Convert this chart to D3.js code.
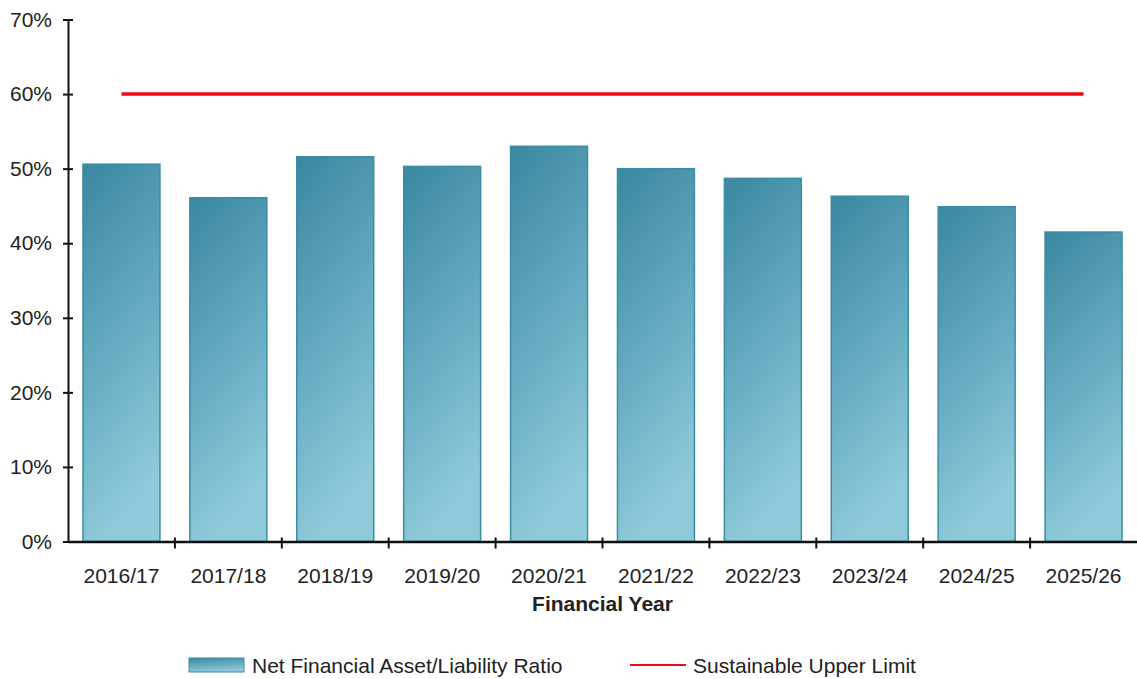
<!DOCTYPE html>
<html>
<head>
<meta charset="utf-8">
<script src="https://cdn.jsdelivr.net/npm/d3@7"></script>
<style>
  body { margin: 0; background: #fff; }
  text { font-family: "Liberation Sans", Arial, sans-serif; fill: #222; }
</style>
</head>
<body>
<div id="chart"></div>
<script>
// data
const years = ["2016/17", "2017/18", "2018/19", "2019/20", "2020/21",
               "2021/22", "2022/23", "2023/24", "2024/25", "2025/26"];
const ratio = [50.6, 46.1, 51.6, 50.3, 53.0, 50.0, 48.7, 46.3, 44.9, 41.5];
const upperLimit = 60;
const yTicks = [0, 10, 20, 30, 40, 50, 60, 70];

const W = 1137, H = 679;
const plotLeft = 68, plotRight = 1137, plotTop = 19.5, plotBottom = 541.5;

const svg = d3.select("#chart")
  .append("svg")
    .attr("width", W)
    .attr("height", H);

const defs = svg.append("defs");
const grad = defs.append("linearGradient")
  .attr("id", "barGrad")
  .attr("x1", "0%").attr("y1", "0%")
  .attr("x2", "25%").attr("y2", "100%");
grad.append("stop").attr("offset", "0%").attr("stop-color", "#3a87a0");
grad.append("stop").attr("offset", "55%").attr("stop-color", "#66abc2");
grad.append("stop").attr("offset", "100%").attr("stop-color", "#8ecad9");

const x = d3.scaleBand()
  .domain(years)
  .range([plotLeft, plotRight])
  .paddingInner(0.28)
  .paddingOuter(0.14);

const y = d3.scaleLinear()
  .domain([0, 70])
  .range([plotBottom, plotTop]);

// bars
svg.selectAll(".bar")
  .data(years.map((yr, i) => ({ yr, v: ratio[i] })))
  .enter()
  .append("rect")
    .attr("class", "bar")
    .attr("x", d => x(d.yr))
    .attr("y", d => y(d.v))
    .attr("width", x.bandwidth())
    .attr("height", d => y(0) - y(d.v))
    .attr("fill", "url(#barGrad)")
    .attr("stroke", "#3b8ea3")
    .attr("stroke-width", 1.5);

// upper limit line
svg.append("line")
  .attr("x1", x(years[0]) + x.bandwidth() / 2)
  .attr("x2", x(years[years.length - 1]) + x.bandwidth() / 2)
  .attr("y1", y(upperLimit))
  .attr("y2", y(upperLimit))
  .attr("stroke", "#f00a14")
  .attr("stroke-width", 3.5);

// y axis
const yAxis = svg.append("g")
  .attr("transform", `translate(${plotLeft},0)`)
  .call(d3.axisLeft(y).tickValues(yTicks).tickFormat(d => d + "%").tickSize(0).tickPadding(16));
yAxis.select(".domain").attr("stroke", "#111").attr("stroke-width", 2);
yAxis.selectAll(".tick line").remove();
yAxis.selectAll(".tick").append("line")
  .attr("x1", -5).attr("x2", 5)
  .attr("stroke", "#111").attr("stroke-width", 2);
yAxis.selectAll("text")
  .style("font-size", "21px")
  .attr("fill", "#222");

// x axis
const xAxis = svg.append("g")
  .attr("transform", `translate(0,${plotBottom})`)
  .call(d3.axisBottom(x).tickSize(0).tickPadding(27));
xAxis.select(".domain").attr("stroke", "#111").attr("stroke-width", 2.5);
xAxis.selectAll("text")
  .style("font-size", "21px")
  .attr("fill", "#222");

// category separators
svg.append("g")
  .selectAll("line")
  .data(years.slice(1))
  .enter()
  .append("line")
    .attr("x1", d => x(d) - x.step() * x.paddingInner() / 2)
    .attr("x2", d => x(d) - x.step() * x.paddingInner() / 2)
    .attr("y1", plotBottom - 4)
    .attr("y2", plotBottom + 7)
    .attr("stroke", "#111")
    .attr("stroke-width", 2);

// x title
svg.append("text")
  .attr("x", (plotLeft + plotRight) / 2)
  .attr("y", 611)
  .attr("text-anchor", "middle")
  .style("font-size", "21px")
  .style("font-weight", "bold")
  .text("Financial Year");

// legend
const lg = svg.append("g");
lg.append("rect")
  .attr("x", 189).attr("y", 658)
  .attr("width", 55).attr("height", 14)
  .attr("fill", "url(#barGrad)")
  .attr("stroke", "#3b8ea3");
lg.append("text")
  .attr("x", 252).attr("y", 673)
  .style("font-size", "21px")
  .text("Net Financial Asset/Liability Ratio");
lg.append("line")
  .attr("x1", 630).attr("x2", 686)
  .attr("y1", 665).attr("y2", 665)
  .attr("stroke", "#f00a14")
  .attr("stroke-width", 2);
lg.append("text")
  .attr("x", 693).attr("y", 673)
  .style("font-size", "21px")
  .text("Sustainable Upper Limit");
</script>
</body>
</html>
